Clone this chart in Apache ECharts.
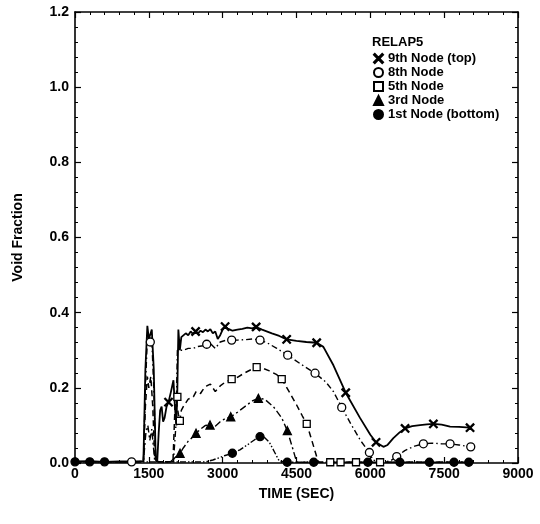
<!DOCTYPE html>
<html>
<head>
<meta charset="utf-8">
<script src="https://cdn.jsdelivr.net/npm/echarts@6/dist/echarts.min.js"></script>
<style>
html,body{margin:0;padding:0;background:#fff;}
#main{width:540px;height:524px;}
</style>
</head>
<body>
<div id="main"></div>
<script>
// time (sec) / void fraction
var t9 = [0,300,600,900,1200,1390,1430,1470,1500,1530,1560,1600,1640,1670,1700,1730,1760,1790,1820,1860,1900,1950,2000,2030,2060,2080,2100,2130,2160,2200,2250,2300,2350,2400,2450,2500,2550,2600,2650,2700,2750,2800,2850,2900,2950,3000,3050,3100,3150,3200,3300,3400,3500,3600,3680,3800,4000,4150,4300,4500,4700,4910,5046,5250,5500,5790,6000,6116,6265,6350,6468,6600,6706,6850,7010,7150,7281,7450,7620,7800,8026];
var v9 = [0.004,0.005,0.003,0.004,0.004,0.005,0.25,0.365,0.33,0.335,0.355,0.25,0.01,0.003,0.08,0.14,0.15,0.11,0.12,0.15,0.162,0.19,0.22,0.15,0.1,0.2,0.355,0.3,0.335,0.34,0.345,0.34,0.35,0.343,0.35,0.345,0.352,0.348,0.355,0.35,0.356,0.345,0.35,0.33,0.34,0.355,0.363,0.358,0.355,0.352,0.355,0.357,0.36,0.358,0.362,0.355,0.345,0.338,0.329,0.325,0.322,0.32,0.309,0.26,0.187,0.12,0.075,0.055,0.043,0.048,0.066,0.082,0.092,0.098,0.101,0.103,0.104,0.102,0.097,0.096,0.094];
var m9 = [1900,2450,3050,3680,4300,4910,5500,6116,6706,7281,8026];

var t8 = [0,300,600,900,1150,1390,1430,1470,1500,1530,1560,1600,1640,1690,1800,1900,2000,2050,2080,2110,2150,2200,2300,2400,2500,2600,2676,2750,2850,2950,3050,3183,3300,3450,3600,3759,3900,4100,4321,4600,4877,5100,5250,5419,5600,5800,5981,6050,6200,6400,6536,6700,6900,7078,7250,7450,7620,7800,8040];
var v8 = [0.003,0.004,0.003,0.003,0.003,0.004,0.2,0.33,0.32,0.322,0.33,0.2,0.005,0.003,0.003,0.003,0.004,0.1,0.3,0.298,0.3,0.3,0.305,0.305,0.31,0.312,0.316,0.318,0.305,0.322,0.326,0.327,0.327,0.328,0.33,0.327,0.32,0.305,0.287,0.262,0.239,0.215,0.19,0.148,0.105,0.06,0.028,0.008,0.003,0.005,0.017,0.033,0.045,0.051,0.053,0.051,0.051,0.048,0.043];
var m8 = [1150,1530,2676,3183,3759,4321,4877,5419,5981,6536,7078,7620,8040];

var t5 = [0,400,800,1200,1390,1430,1470,1500,1540,1580,1620,1700,1800,1900,1990,2040,2080,2100,2130,2160,2200,2250,2300,2404,2460,2550,2600,2676,2750,2850,2950,3050,3183,3300,3450,3600,3691,3800,3950,4100,4200,4350,4500,4620,4708,4800,4880,4945,5185,5395,5709,6198,6600,7000,7500,8000];
var v5 = [0.003,0.003,0.003,0.003,0.004,0.15,0.23,0.2,0.23,0.15,0.01,0.003,0.003,0.003,0.003,0.18,0.176,0.13,0.112,0.14,0.15,0.16,0.17,0.176,0.19,0.185,0.195,0.205,0.21,0.19,0.205,0.215,0.223,0.228,0.24,0.25,0.255,0.253,0.245,0.235,0.223,0.19,0.155,0.125,0.104,0.065,0.03,0.002,0.002,0.002,0.002,0.002,0.002,0.002,0.002,0.002];
var m5 = [2080,2130,3183,3691,4200,4708,5185,5395,5709,6198];

var t3 = [0,400,800,1200,1390,1440,1480,1520,1560,1620,1700,1800,1930,2000,2060,2134,2200,2300,2400,2459,2550,2650,2743,2850,2950,3050,3164,3300,3450,3600,3725,3850,4030,4200,4314,4420,4504,5000,5500,6000,6500,7000,7500,8000];
var v3 = [0.003,0.003,0.003,0.003,0.004,0.08,0.1,0.06,0.09,0.005,0.003,0.003,0.003,0.01,0.018,0.026,0.04,0.058,0.07,0.079,0.09,0.1,0.101,0.098,0.11,0.118,0.123,0.135,0.15,0.165,0.172,0.17,0.15,0.12,0.086,0.04,0.002,0.002,0.002,0.002,0.002,0.002,0.002,0.002];
var m3 = [2134,2459,2743,3164,3725,4314];

var t1 = [0,300,600,900,1200,1500,1800,2100,2400,2650,2800,2950,3050,3197,3350,3500,3650,3759,3850,3950,4050,4150,4311,4850,5400,5950,6600,7200,7700,8000];
var v1 = [0.003,0.003,0.003,0.003,0.003,0.003,0.003,0.003,0.003,0.003,0.008,0.015,0.02,0.026,0.035,0.048,0.062,0.07,0.068,0.055,0.03,0.005,0.002,0.002,0.002,0.002,0.002,0.002,0.002,0.002];
var m1 = [0,300,600,3197,3759,4311,4850,5950,6600,7200,7700,8000];

var names = ['9th Node (top)','8th Node','5th Node','3rd Node','1st Node (bottom)'];
var xTicks = [0,1500,3000,4500,6000,7500,9000];

var font = 'Liberation Sans, Arial, Helvetica, sans-serif';
var cross = 'path://M0,0.9L0.9,0L5,4.1L9.1,0L10,0.9L5.9,5L10,9.1L9.1,10L5,5.9L0.9,10L0,9.1L4.1,5Z';

function build(t, v, marks, sym) {
    var pick = {};
    marks.forEach(function (m) {
        var best = 0;
        for (var i = 1; i < t.length; i++) {
            if (Math.abs(t[i] - m) < Math.abs(t[best] - m)) best = i;
        }
        pick[best] = true;
    });
    return t.map(function (x, i) {
        return { value: [x, v[i]], symbol: pick[i] ? sym : 'none' };
    });
}

function mkSeries(name, t, v, marks, sym, size, fill, dash, lw) {
    return {
        name: name,
        type: 'line',
        xAxisIndex: 0,
        yAxisIndex: 0,
        data: build(t, v, marks, sym),
        symbol: sym,
        symbolSize: size,
        showAllSymbol: true,
        lineStyle: { color: '#000', width: lw, type: dash },
        itemStyle: { color: fill, borderColor: '#000', borderWidth: 1.3 },
        emphasis: { disabled: true },
        z: 3
    };
}

var myChart = echarts.init(document.getElementById('main'));

function axisCommon() {
    return {
        type: 'value',
        axisLine: { show: true, onZero: false, lineStyle: { color: '#000', width: 1.6 } },
        axisTick: { show: true, inside: true, length: 6, lineStyle: { color: '#000', width: 1.2 } },
        minorTick: { show: true, splitNumber: 5, length: 3, lineStyle: { color: '#000', width: 1 } },
        splitLine: { show: false },
        minorSplitLine: { show: false }
    };
}

var xa0 = axisCommon();
xa0.min = 0; xa0.max = 9000; xa0.interval = 1500; xa0.position = 'bottom';
xa0.axisLabel = { color: '#000', fontFamily: font, fontWeight: 'bold', fontSize: 14, margin: 4,
    formatter: function (v) { return xTicks.indexOf(v) >= 0 ? String(v) : ''; } };
xa0.name = 'TIME (SEC)';
xa0.nameLocation = 'middle';
xa0.nameGap = 24;
xa0.nameTextStyle = { color: '#000', fontFamily: font, fontWeight: 'bold', fontSize: 14 };

var xa1 = axisCommon();
xa1.min = 0; xa1.max = 9000; xa1.interval = 1500; xa1.position = 'top';
xa1.axisLabel = { show: false };

var ya0 = axisCommon();
ya0.min = 0; ya0.max = 1.2; ya0.interval = 0.2; ya0.position = 'left';
ya0.axisLabel = { color: '#000', fontFamily: font, fontWeight: 'bold', fontSize: 14, margin: 6,
    formatter: function (v) { return v.toFixed(1); } };
ya0.name = 'Void Fraction';
ya0.nameLocation = 'middle';
ya0.nameGap = 50;
ya0.nameTextStyle = { color: '#000', fontFamily: font, fontWeight: 'bold', fontSize: 14 };

var ya1 = axisCommon();
ya1.min = 0; ya1.max = 1.2; ya1.interval = 0.2; ya1.position = 'right';
ya1.axisLabel = { show: false };

var option = {
    backgroundColor: '#fff',
    animation: false,
    grid: { left: 75, right: 22, top: 12, bottom: 61 },
    title: {
        text: 'RELAP5',
        left: 372,
        top: 36,
        padding: 0,
        textStyle: { color: '#000', fontFamily: font, fontWeight: 'bold', fontSize: 13 }
    },
    legend: {
        orient: 'vertical',
        left: 373,
        top: 52,
        padding: 0,
        itemWidth: 9,
        itemHeight: 9,
        itemGap: 1,
        selectedMode: false,
        textStyle: { color: '#000', fontFamily: font, fontWeight: 'bold', fontSize: 13, lineHeight: 13 },
        data: [
            { name: names[0], icon: cross },
            { name: names[1], icon: 'circle' },
            { name: names[2], icon: 'rect' },
            { name: names[3], icon: 'triangle' },
            { name: names[4], icon: 'circle' }
        ]
    },
    xAxis: [xa0, xa1],
    yAxis: [ya0, ya1],
    series: [
        mkSeries(names[0], t9, v9, m9, cross, 8, '#000', 'solid', 1.8),
        mkSeries(names[1], t8, v8, m8, 'circle', 8, '#fff', [6, 3, 1.5, 3], 1.4),
        mkSeries(names[2], t5, v5, m5, 'rect', 7, '#fff', [6, 4], 1.5),
        mkSeries(names[3], t3, v3, m3, 'triangle', 8, '#000', [7, 3, 2, 3], 1.4),
        mkSeries(names[4], t1, v1, m1, 'circle', 8, '#000', [6, 2, 1.5, 2, 1.5, 2], 1.4)
    ]
};
myChart.setOption(option, true);
</script>
</body>
</html>
